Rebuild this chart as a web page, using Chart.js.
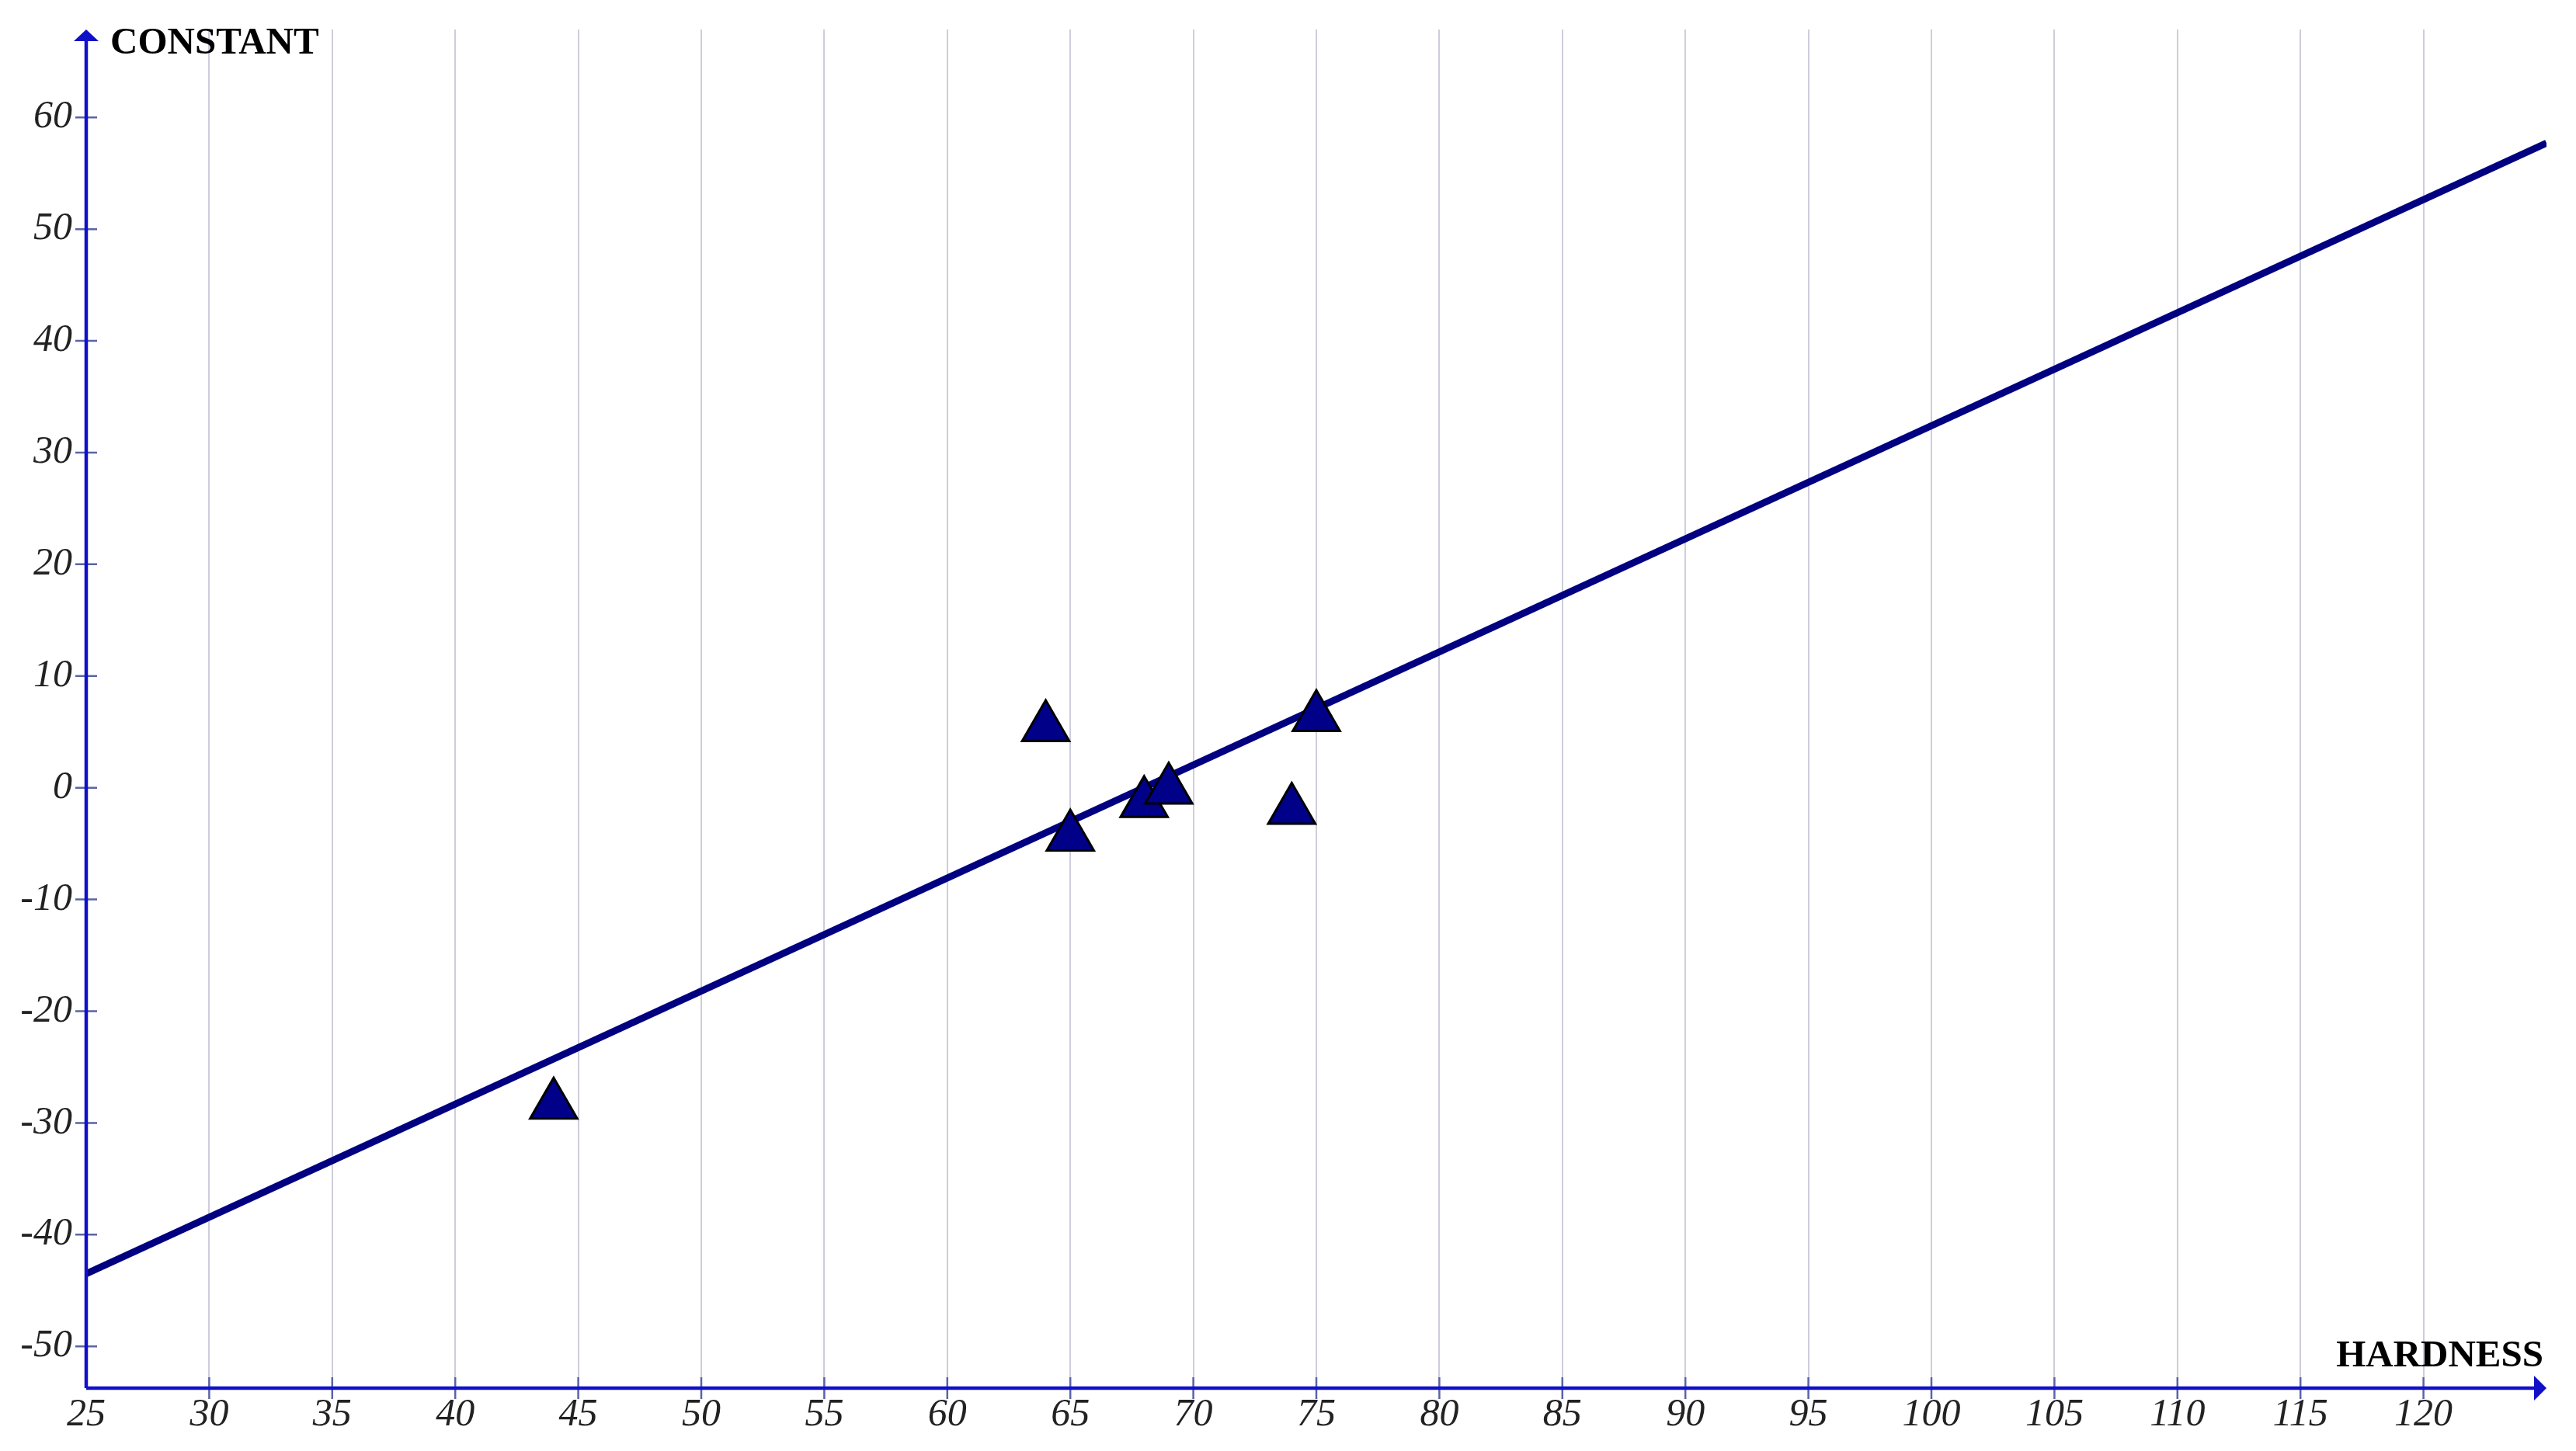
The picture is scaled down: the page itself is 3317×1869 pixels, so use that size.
<!DOCTYPE html>
<html>
<head>
<meta charset="utf-8">
<script src="https://cdn.jsdelivr.net/npm/chart.js"></script>
<style>
  body { margin: 0; background: #fff; }
</style>
</head>
<body>
<canvas id="chart" width="3317" height="1869"></canvas>
<script>
// measured points (triangles)
var hardness = [44, 64, 65, 68, 69, 74, 75];
var constant = [-28.4, 5.4, -4.4, -1.4, -0.2, -2.0, 6.3];
// fitted line ends
var lineX = [25, 125];
var lineY = [-43.5, 57.7];
// tick labels
var xTicks = [25, 30, 35, 40, 45, 50, 55, 60, 65, 70, 75, 80, 85, 90, 95, 100, 105, 110, 115, 120];
var yTicks = [-50, -40, -30, -20, -10, 0, 10, 20, 30, 40, 50, 60];

var pts = [];
for (var i = 0; i < hardness.length; i++) {
  pts.push({x: hardness[i], y: constant[i]});
}
var linePts = [];
for (var j = 0; j < lineX.length; j++) {
  linePts.push({x: lineX[j], y: lineY[j]});
}

var axisColor = '#1010c8';
var tickFont = {family: 'Liberation Serif', size: 50, style: 'italic'};

function noPadding(s) {
  s.paddingTop = 0;
  s.paddingBottom = 0;
  s.paddingLeft = 0;
  s.paddingRight = 0;
}

// axes with arrows, crossing ticks and titles
var axesPlugin = {
  id: 'axes',
  afterDraw: function (chart) {
    var ctx = chart.ctx;
    var a = chart.chartArea;
    var sx = chart.scales.x, sy = chart.scales.y;
    ctx.save();
    // ticks crossing the axes
    ctx.strokeStyle = '#5a64a8';
    ctx.lineWidth = 2.5;
    ctx.beginPath();
    xTicks.forEach(function (v) {
      var px = sx.getPixelForValue(v);
      if (v === xTicks[0]) return;
      ctx.moveTo(px, a.bottom - 14);
      ctx.lineTo(px, a.bottom + 14);
    });
    yTicks.forEach(function (v) {
      var py = sy.getPixelForValue(v);
      ctx.moveTo(a.left - 14, py);
      ctx.lineTo(a.left + 14, py);
    });
    ctx.stroke();
    ctx.strokeStyle = axisColor;
    ctx.fillStyle = axisColor;
    ctx.lineWidth = 4.5;
    ctx.beginPath();
    ctx.moveTo(a.left, a.bottom);
    ctx.lineTo(a.left, a.top + 12);
    ctx.moveTo(a.left, a.bottom);
    ctx.lineTo(a.right - 12, a.bottom);
    ctx.stroke();
    // arrow heads
    ctx.beginPath();
    ctx.moveTo(a.left, a.top);
    ctx.lineTo(a.left - 16, a.top + 15);
    ctx.lineTo(a.left + 16, a.top + 15);
    ctx.closePath();
    ctx.fill();
    ctx.beginPath();
    ctx.moveTo(a.right, a.bottom);
    ctx.lineTo(a.right - 16, a.bottom - 16);
    ctx.lineTo(a.right - 16, a.bottom + 16);
    ctx.closePath();
    ctx.fill();
    // axis titles
    ctx.fillStyle = '#000';
    ctx.font = 'bold 49px "Liberation Serif"';
    ctx.textBaseline = 'alphabetic';
    ctx.textAlign = 'left';
    ctx.fillText('CONSTANT', a.left + 31, 69);
    ctx.textAlign = 'right';
    ctx.fillText('HARDNESS', a.right - 4, a.bottom - 28);
    ctx.restore();
  }
};

var statChart = new Chart(document.getElementById('chart'), {
  type: 'scatter',
  data: {
    datasets: [{
      label: 'data',
      data: pts,
      pointStyle: 'triangle',
      pointRadius: 35,
      pointHoverRadius: 35,
      backgroundColor: '#000088',
      borderColor: '#000000',
      borderWidth: 3
    }, {
      label: 'fit',
      data: linePts,
      showLine: true,
      borderColor: '#000080',
      borderWidth: 9,
      pointRadius: 0,
      fill: false
    }]
  },
  options: {
    responsive: false,
    devicePixelRatio: 1,
    animation: false,
    layout: {padding: {top: 32, right: 34, left: 0, bottom: 0}},
    plugins: {legend: {display: false}, tooltip: {enabled: false}},
    scales: {
      x: {
        type: 'linear',
        min: 25,
        max: 125,
        afterBuildTicks: function (s) {
          s.ticks = xTicks.map(function (v) { return {value: v}; });
        },
        afterFit: function (s) { s.height = 81; noPadding(s); },
        border: {display: false},
        grid: {
          drawTicks: false,
          color: function (c) { return c.tick && c.tick.value === 25 ? 'rgba(0,0,0,0)' : '#cdcddc'; },
          lineWidth: 2,
          borderDash: [3, 3]
        },
        ticks: {font: tickFont, color: '#222', padding: 5, maxRotation: 0, autoSkip: false}
      },
      y: {
        type: 'linear',
        min: -53.74,
        max: 67.87,
        afterBuildTicks: function (s) {
          s.ticks = yTicks.map(function (v) { return {value: v}; });
        },
        afterFit: function (s) { s.width = 111; noPadding(s); },
        border: {display: false},
        grid: {display: false, drawTicks: false},
        ticks: {font: tickFont, color: '#222', padding: 18, autoSkip: false}
      }
    }
  },
  plugins: [axesPlugin]
});
</script>
</body>
</html>
